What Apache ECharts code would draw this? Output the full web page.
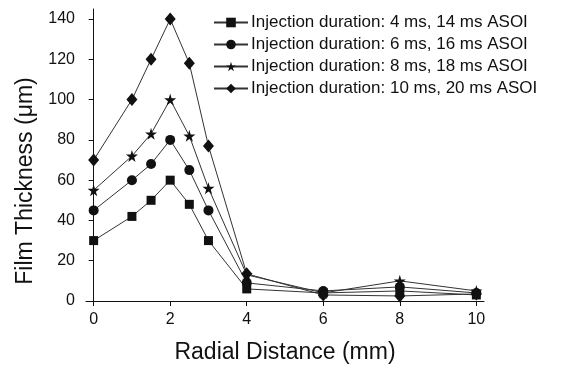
<!DOCTYPE html>
<html><head><meta charset="utf-8">
<script src="https://cdn.jsdelivr.net/npm/echarts@6/dist/echarts.min.js"></script>
<style>html,body{margin:0;padding:0;background:#fff}#c{width:566px;height:369px}</style>
</head><body><div id="c"></div>
<script>
const radialDistance = [0, 1, 1.5, 2, 2.5, 3, 4, 6, 8, 10];
const inj4ms = [30, 42, 50, 60, 48, 30, 6, 4, 5, 3];
const inj6ms = [45, 60, 68, 80, 65, 45, 9, 5, 7, 4];
const inj8ms = [55, 72, 83, 100, 82, 56, 13, 4, 10, 5];
const inj10ms = [70, 100, 120, 140, 118, 77, 13.5, 3, 2.5, 3.5];
const seriesNames = [
  'Injection duration: 4 ms, 14 ms ASOI',
  'Injection duration: 6 ms, 16 ms ASOI',
  'Injection duration: 8 ms, 18 ms ASOI',
  'Injection duration: 10 ms, 20 ms ASOI'
];
const xTicks = [0, 2, 4, 6, 8, 10];
const yTicks = [0, 20, 40, 60, 80, 100, 120, 140];

const star = 'path://M50,0 L61,35 L98,35 L68,57 L79,91 L50,70 L21,91 L32,57 L2,35 L39,35 Z';
const symbols = ['rect', 'circle', star, 'diamond'];
const sizes = [9, 10, 12, [11, 13]];
const allData = [inj4ms, inj6ms, inj8ms, inj10ms];

const font = 'Liberation Sans, Arial, sans-serif';
const chart = echarts.init(document.getElementById('c'), null, {renderer: 'canvas'});
chart.setOption({
  animation: false,
  backgroundColor: '#fff',
  grid: {left: 86, right: 82, top: 9, bottom: 66},
  legend: {
    orient: 'vertical', left: 213, top: 14, padding: 0,
    itemWidth: 34, itemHeight: 12, itemGap: 5,
    textStyle: {fontFamily: font, fontSize: 17, color: '#111', padding: [0,0,0,-2]},
    data: seriesNames
  },
  xAxis: {
    type: 'value', min: -0.2, max: 10.2,
    name: 'Radial Distance (mm)', nameLocation: 'middle', nameGap: 40,
    nameTextStyle: {fontFamily: font, fontSize: 23, color: '#111'},
    axisLine: {show: true, onZero: false, lineStyle: {color: '#111', width: 1}},
    axisTick: {show: true, length: 5, customValues: xTicks, lineStyle: {color: '#111'}},
    axisLabel: {customValues: xTicks, fontFamily: font, fontSize: 16, color: '#111', margin: 11},
    splitLine: {show: false}
  },
  yAxis: {
    type: 'value', min: 0, max: 145,
    name: 'Film Thickness (\u03bcm)', nameLocation: 'middle', nameGap: 49,
    nameTextStyle: {fontFamily: font, fontSize: 23, color: '#111', padding: [0, 52, 0, 0]},
    axisLine: {show: true, lineStyle: {color: '#111', width: 1}},
    axisTick: {show: true, length: 5, customValues: yTicks, lineStyle: {color: '#111'}},
    axisLabel: {customValues: yTicks, fontFamily: font, fontSize: 16, color: '#111', margin: 11},
    splitLine: {show: false}
  },
  series: allData.map((d, i) => ({
    name: seriesNames[i],
    type: 'line',
    data: d.map((v, j) => [radialDistance[j], v]),
    symbol: symbols[i],
    symbolSize: sizes[i],
    showAllSymbol: true,
    color: '#111',
    lineStyle: {color: '#333', width: 1},
    itemStyle: {color: '#111'}
  }))
});
</script></body></html>
